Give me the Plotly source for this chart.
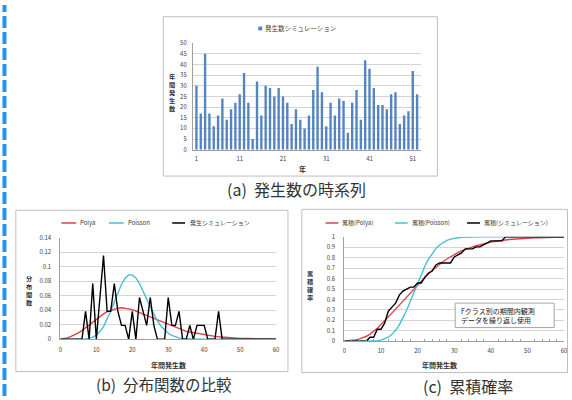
import plotly.graph_objects as go

# ---------------- data ----------------
years = list(range(1, 53))
counts = [30, 17, 45, 17, 11, 16, 24, 14, 19, 22, 26, 36, 22, 5, 32, 16, 30, 29, 25, 29,
          25, 22, 12, 19, 14, 10, 16, 28, 39, 27, 11, 22, 16, 24, 23, 8, 22, 28, 14, 42,
          38, 29, 21, 21, 19, 26, 27, 12, 16, 18, 37, 26]
year_ticks = [1, 11, 21, 31, 41, 51]

k = list(range(0, 61))
polya_pmf = [0.0003, 0.001, 0.002, 0.004, 0.006, 0.009, 0.012, 0.016, 0.020, 0.024,
             0.028, 0.032, 0.035, 0.038, 0.040, 0.042, 0.043, 0.0435, 0.043, 0.042,
             0.041, 0.039, 0.037, 0.035, 0.033, 0.031, 0.029, 0.026, 0.024, 0.022,
             0.020, 0.018, 0.016, 0.014, 0.013, 0.011, 0.010, 0.009, 0.008, 0.007,
             0.006, 0.005, 0.0045, 0.004, 0.0035, 0.003, 0.0025, 0.002, 0.0018, 0.0015,
             0.0013, 0.0011, 0.0009, 0.0008, 0.0007, 0.0006, 0.0005, 0.0004, 0.0003, 0.0003,
             0.0002]
poisson_pmf = [0, 0, 0, 0, 0, 0.0001, 0.0002, 0.0005, 0.0013, 0.0029,
               0.0058, 0.0106, 0.0176, 0.0271, 0.0387, 0.0516, 0.0646, 0.0760, 0.0844, 0.0888,
               0.0888, 0.0846, 0.0769, 0.0669, 0.0557, 0.0446, 0.0343, 0.0254, 0.0181, 0.0125,
               0.0083, 0.0054, 0.0034, 0.0020, 0.0012, 0.0007, 0.0004, 0.0002, 0.0001, 0.0001,
               0, 0, 0, 0, 0, 0, 0, 0, 0, 0,
               0, 0, 0, 0, 0, 0, 0, 0, 0, 0,
               0]
sim_pmf = [0, 0, 0, 0, 0, 0, 0, 0.0385, 0, 0.0769,
           0, 0.0577, 0.1154, 0.0385, 0.0385, 0.0769, 0.0385, 0.0192, 0.0192, 0,
           0.0385, 0, 0.0577, 0.0385, 0.0192, 0.0577, 0.0192, 0, 0, 0,
           0.0577, 0.0192, 0.0192, 0.0385, 0, 0, 0.0192, 0, 0.0192, 0.0192,
           0.0192, 0, 0, 0, 0.0385, 0, 0, 0, 0, 0,
           0, 0, 0, 0, 0, 0, 0, 0, 0, 0,
           0]

polya_cdf = [0.0, 0.002, 0.005, 0.012, 0.02, 0.032, 0.048, 0.068, 0.094, 0.125,
             0.16, 0.195, 0.232, 0.27, 0.308, 0.346, 0.384, 0.422, 0.46, 0.50,
             0.54, 0.578, 0.614, 0.648, 0.68, 0.71, 0.738, 0.764, 0.788, 0.81,
             0.83, 0.849, 0.865, 0.88, 0.894, 0.905, 0.915, 0.925, 0.934, 0.942,
             0.95, 0.956, 0.962, 0.967, 0.971, 0.975, 0.978, 0.981, 0.984, 0.986,
             0.988, 0.99, 0.991, 0.992, 0.993, 0.994, 0.995, 0.996, 0.997, 0.997,
             0.998]
poisson_cdf = [0, 0, 0, 0, 0, 0.0001, 0.0003, 0.0008, 0.0021, 0.0050,
               0.0108, 0.0214, 0.0390, 0.0661, 0.1049, 0.1565, 0.2211, 0.2970, 0.3814, 0.4703,
               0.5591, 0.6437, 0.7206, 0.7875, 0.8432, 0.8878, 0.9221, 0.9475, 0.9657, 0.9782,
               0.9865, 0.9919, 0.9953, 0.9973, 0.9985, 0.9992, 0.9996, 0.9998, 0.9999, 1.0,
               1.0, 1.0, 1.0, 1.0, 1.0, 1.0, 1.0, 1.0, 1.0, 1.0,
               1.0, 1.0, 1.0, 1.0, 1.0, 1.0, 1.0, 1.0, 1.0, 1.0,
               1.0]
sim_cdf = [0, 0, 0, 0, 0, 0, 0, 0.038, 0.038, 0.115,
           0.115, 0.173, 0.288, 0.327, 0.365, 0.442, 0.481, 0.5, 0.519, 0.519,
           0.558, 0.558, 0.615, 0.654, 0.673, 0.731, 0.75, 0.75, 0.75, 0.75,
           0.808, 0.827, 0.846, 0.885, 0.885, 0.885, 0.904, 0.904, 0.923, 0.942,
           0.962, 0.962, 0.962, 0.962, 1.0, 1.0, 1.0, 1.0, 1.0, 1.0,
           1.0, 1.0, 1.0, 1.0, 1.0, 1.0, 1.0, 1.0, 1.0, 1.0,
           1.0]

bar_name = "発生数シミュレーション"
pmf_names = ["Polya", "Poisson", "発生シミュレーション"]
cdf_names = ["累積(Polya)", "累積(Poisson)", "累積(シミュレーション)"]

# ---------------- style ----------------
W, H = 572, 400
FONT = "Noto Sans CJK JP"
RED = "#E0404A"
CYAN = "#46BFD6"
BLACK = "#000000"
BARC = "#5585C0"
GRID = "#D4D4D4"
AXL = "#A0A0A0"
TXT = "#404040"
LINE_COLORS = [RED, CYAN, BLACK]


def px(x):
    return x / W


def py(y):
    return 1 - y / H


fig = go.Figure()
fig.add_trace(go.Bar(x=years, y=counts, name=bar_name, marker_color=BARC,
                     marker_line_width=0, width=0.55, xaxis="x", yaxis="y"))

for ys, nm, col in zip([polya_pmf, poisson_pmf, sim_pmf], pmf_names, LINE_COLORS):
    fig.add_trace(go.Scatter(x=k, y=ys, mode="lines", name=nm,
                             line=dict(color=col, width=1.4), xaxis="x2", yaxis="y2"))
for ys, nm, col in zip([polya_cdf, poisson_cdf, sim_cdf], cdf_names, LINE_COLORS):
    fig.add_trace(go.Scatter(x=k, y=ys, mode="lines", name=nm,
                             line=dict(color=col, width=1.4), xaxis="x3", yaxis="y3"))

tickfont = dict(family=FONT, size=6, color=TXT)
common_x = dict(showgrid=False, zeroline=False, showline=True, linecolor=AXL, linewidth=1,
                tickfont=tickfont, ticks="", fixedrange=True)
common_y = dict(showgrid=True, gridcolor=GRID, gridwidth=1, zeroline=False, showline=True,
                linecolor=AXL, linewidth=1, tickfont=tickfont, ticks="", fixedrange=True)

fig.update_layout(
    width=W, height=H, autosize=False,
    margin=dict(l=0, r=0, t=0, b=0),
    paper_bgcolor="white", plot_bgcolor="white",
    font=dict(family=FONT, color=TXT),
    showlegend=False,
    xaxis=dict(common_x, domain=[px(193), px(423)], range=[0.2, 52.8], anchor="y",
               tickmode="array", tickvals=year_ticks, ticklabelstandoff=3),
    yaxis=dict(common_y, domain=[py(148), py(39)], range=[0, 50.05], dtick=5, anchor="x",
               ticklabelstandoff=4),
    xaxis2=dict(common_x, domain=[px(59), px(277)], range=[0, 60], dtick=10, anchor="y2",
                ticklabelstandoff=4),
    yaxis2=dict(common_y, domain=[py(342), py(238)], range=[0, 0.1402], dtick=0.02, anchor="x2",
                ticklabelstandoff=7),
    xaxis3=dict(common_x, domain=[px(346), px(568)], range=[0, 60], dtick=10, anchor="y3",
                ticklabelstandoff=4,
                minor=dict(dtick=2, ticks="inside", ticklen=2, tickcolor=AXL)),
    yaxis3=dict(common_y, domain=[py(344), py(237)], range=[0, 1.002], dtick=0.1, anchor="x3",
                ticklabelstandoff=7),
)

shapes = []
# panel frames
for (x0, y0, x1, y1) in [(163, 12, 440, 175), (14, 210, 289, 375), (303, 209, 571.5, 376)]:
    shapes.append(dict(type="rect", xref="paper", yref="paper", x0=px(x0), x1=px(x1),
                       y0=py(y1), y1=py(y0), line=dict(color="#BFBFBF", width=1),
                       fillcolor="rgba(0,0,0,0)", layer="below"))
# note box in panel (c)
shapes.append(dict(type="rect", xref="paper", yref="paper", x0=px(458), x1=px(558),
                   y0=py(330), y1=py(305), line=dict(color="#A6A6A6", width=1),
                   fillcolor="white", layer="above"))
# dashed blue marker line along left edge
shapes.append(dict(type="line", xref="paper", yref="paper", x0=px(2.5), x1=px(2.5),
                   y0=0, y1=1, line=dict(color="#1E96F0", width=4, dash="12px,4px")))

# legend keys (drawn as small samples)
shapes.append(dict(type="rect", xref="paper", yref="paper", x0=px(259), x1=px(263),
                   y0=py(26), y1=py(22), line=dict(width=0), fillcolor=BARC))
for (xa, xb), col in zip([(60, 75), (108, 123), (172, 185)], LINE_COLORS):
    shapes.append(dict(type="line", xref="paper", yref="paper", x0=px(xa), x1=px(xb),
                       y0=py(223), y1=py(223), line=dict(color=col, width=1.5)))
for (xa, xb), col in zip([(327, 340), (397, 410), (470, 483)], LINE_COLORS):
    shapes.append(dict(type="line", xref="paper", yref="paper", x0=px(xa), x1=px(xb),
                       y0=py(223), y1=py(223), line=dict(color=col, width=1.5)))
fig.update_layout(shapes=shapes)

ann = []


def add_text(text, x, y, size, xanchor="center", yanchor="middle", align="center", color=TXT):
    ann.append(dict(text=text, x=px(x), y=py(y), xref="paper", yref="paper", showarrow=False,
                    xanchor=xanchor, yanchor=yanchor, align=align, borderpad=0,
                    font=dict(family=FONT, size=size, color=color)))


# legend texts
add_text(bar_name, 265, 24, 6.5, xanchor="left")
for x0, nm in zip([78, 126, 189], pmf_names):
    add_text(nm, x0, 223, 6, xanchor="left")
for x0, nm in zip([343, 413, 486], cdf_names):
    add_text(nm, x0, 223, 6, xanchor="left")

# captions
add_text("(a)  発生数の時系列", 298, 188, 16, color="#333333")
add_text("(b)  分布関数の比較", 164, 388, 15.5, color="#333333")
add_text("(c)  累積確率", 471, 390, 16, color="#333333")

# stacked vertical axis titles
add_text("<b>" + "<br>".join("年間発生数") + "</b>", 172, 90, 6.2, color="#333333")
add_text("<b>" + "<br>".join("分布関数") + "</b>", 28, 292, 6.2, color="#333333")
add_text("<b>" + "<br>".join("累積確率") + "</b>", 312, 287, 6.2, color="#333333")

# x axis titles
add_text("<b>年</b>", 304, 168, 7, color="#333333")
add_text("<b>年間発生数</b>", 168, 368, 7, color="#333333")
add_text("<b>年間発生数</b>", 442, 368, 7, color="#333333")

# note
ann.append(dict(text="Fクラス別の期間内観測<br>データを繰り返し使用", x=px(462), y=py(317.5),
                xref="paper", yref="paper", showarrow=False, xanchor="left", yanchor="middle",
                align="left", font=dict(family=FONT, size=7, color="#222222")))
fig.update_layout(annotations=ann)

fig.write_html("out.html", config={"displayModeBar": False, "staticPlot": True},
               post_script="document.body.style.margin='0px';")

# remove the browser's default page margin so the figure sits at the top-left corner
with open("out.html", "r", encoding="utf-8") as f:
    html = f.read()
html = html.replace("<body>", '<body style="margin:0;padding:0;overflow:hidden;">', 1)
with open("out.html", "w", encoding="utf-8") as f:
    f.write(html)
